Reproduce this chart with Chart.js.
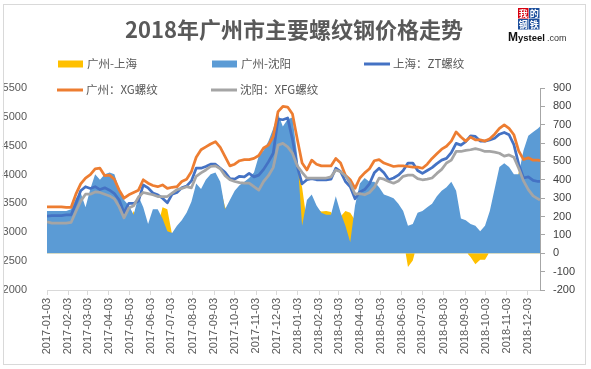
<!DOCTYPE html>
<html><head><meta charset="utf-8">
<script src="https://cdn.jsdelivr.net/npm/chart.js@4"></script>
<style>html,body{margin:0;padding:0;background:#fff;}#wrap{width:591px;height:369px;position:relative;}</style>
</head><body><div id="wrap"><canvas id="c" width="591" height="369"></canvas></div>
<script>
const dates = [
'2017-01-03','2017-01-10','2017-01-17','2017-01-24','2017-01-31',
'2017-02-07','2017-02-14','2017-02-21','2017-02-28',
'2017-03-07','2017-03-14','2017-03-21','2017-03-28',
'2017-04-04','2017-04-11','2017-04-18','2017-04-25',
'2017-05-02','2017-05-09','2017-05-16','2017-05-23','2017-05-30',
'2017-06-06','2017-06-13','2017-06-20','2017-06-27',
'2017-07-04','2017-07-11','2017-07-18','2017-07-25',
'2017-08-01','2017-08-08','2017-08-15','2017-08-22','2017-08-29',
'2017-09-05','2017-09-12','2017-09-19','2017-09-26',
'2017-10-03','2017-10-10','2017-10-17','2017-10-24','2017-10-31',
'2017-11-07','2017-11-14','2017-11-21','2017-11-28',
'2017-12-05','2017-12-12','2017-12-19','2017-12-26',
'2018-01-02','2018-01-09','2018-01-16','2018-01-23','2018-01-30',
'2018-02-06','2018-02-13','2018-02-20','2018-02-27',
'2018-03-06','2018-03-13','2018-03-20','2018-03-27',
'2018-04-03','2018-04-10','2018-04-17','2018-04-24',
'2018-05-01','2018-05-08','2018-05-15','2018-05-22','2018-05-29',
'2018-06-05','2018-06-12','2018-06-19','2018-06-26',
'2018-07-03','2018-07-10','2018-07-17','2018-07-24','2018-07-31',
'2018-08-07','2018-08-14','2018-08-21','2018-08-28',
'2018-09-04','2018-09-11','2018-09-18','2018-09-25',
'2018-10-02','2018-10-09','2018-10-16','2018-10-23','2018-10-30',
'2018-11-06','2018-11-13','2018-11-20','2018-11-27',
'2018-12-04','2018-12-11','2018-12-18','2018-12-21'
];
const tickLabels = [
'2017-01-03','2017-02-03','2017-03-03','2017-04-03','2017-05-03','2017-06-03',
'2017-07-03','2017-08-03','2017-09-03','2017-10-03','2017-11-03','2017-12-03',
'2018-01-03','2018-02-03','2018-03-03','2018-04-03','2018-05-03','2018-06-03',
'2018-07-03','2018-08-03','2018-09-03','2018-10-03','2018-11-03','2018-12-03'
];
// 广州-上海 (right axis)
const spreadGZSH = [
160,150,150,150,130,130,160,120,150,240,
310,370,210,260,250,170,250,150,230,190,
90,80,130,140,250,240,100,100,110,120,
160,190,320,340,350,390,360,250,220,260,
270,300,240,320,340,370,290,290,130,230,
190,440,470,360,170,280,240,228,230,225,
170,200,230,220,180,240,290,260,210,150,
170,260,200,160,80,-75,-40,60,90,110,
160,170,190,210,200,200,140,10,-20,-60,
-35,-35,10,70,100,130,110,170,445,320,
330,350,370,360
];
// 广州-沈阳 (right axis)
const spreadGZSY = [
230,230,230,230,230,240,300,330,250,350,
430,400,430,440,430,350,290,260,210,310,
250,160,240,240,190,120,110,150,180,220,
280,380,350,400,430,440,390,240,290,340,
370,390,410,440,530,560,610,680,760,690,
730,740,530,150,290,320,260,220,210,210,
310,220,150,60,260,380,410,390,390,360,
320,310,300,270,230,150,160,220,230,250,
270,310,340,360,390,340,190,180,160,150,
120,150,230,350,470,490,470,430,430,560,
640,660,680,690
];
// 上海：ZT螺纹 (left axis)
const priceSHZT = [
3280,3290,3290,3290,3300,3300,3500,3720,3790,3760,
3790,3740,3770,3730,3670,3560,3340,3500,3500,3540,
3820,3770,3680,3650,3590,3510,3660,3690,3770,3800,
3890,4110,4110,4140,4180,4180,4110,4040,3930,3920,
3970,3960,4020,3960,3990,4090,4220,4370,4960,4950,
4980,4610,4140,3840,3910,3930,3910,3910,3910,3920,
4110,4050,3880,3790,3580,3700,3740,3840,4030,4110,
4030,3910,3940,3990,4070,4200,4200,4070,4020,4070,
4120,4190,4250,4280,4380,4540,4510,4570,4670,4660,
4580,4580,4600,4630,4700,4730,4690,4520,4180,3940,
3960,3900,3880,3880
];
// 广州：XG螺纹 (left axis)
const priceGZXG = [
3440,3440,3440,3440,3430,3430,3660,3840,3940,4000,
4100,4110,3980,3990,3920,3730,3590,3650,3690,3730,
3910,3850,3810,3790,3820,3760,3780,3790,3880,3920,
4050,4300,4430,4480,4530,4570,4470,4310,4150,4180,
4240,4260,4260,4280,4330,4460,4510,4660,5090,5180,
5170,5050,4610,4200,4080,4250,4180,4150,4150,4150,
4280,4200,3990,3910,3760,3940,4030,4100,4240,4260,
4200,4170,4140,4150,4150,4140,4130,4130,4110,4180,
4280,4360,4440,4490,4580,4740,4650,4580,4650,4600,
4600,4580,4620,4700,4800,4860,4800,4690,4410,4260,
4290,4250,4250,4240
];
// 沈阳：XFG螺纹 (left axis)
const priceSYXFG = [
3180,3160,3160,3160,3160,3170,3360,3540,3660,3660,
3700,3690,3660,3630,3580,3440,3250,3420,3460,3610,
3690,3670,3650,3620,3620,3620,3680,3740,3760,3790,
3770,3970,4030,4080,4140,4150,4100,3980,3910,3880,
3860,3850,3850,3790,3730,3880,3980,4120,4510,4540,
4480,4370,4150,4040,3940,3940,3940,3940,3940,3960,
4080,4050,3980,3850,3660,3670,3650,3690,3780,3940,
3920,3880,3850,3890,3970,3990,3990,3930,3910,3920,
3940,4020,4090,4200,4250,4400,4400,4420,4430,4450,
4430,4400,4400,4390,4370,4320,4340,4300,4110,3890,
3740,3630,3580,3560
];
const seriesNames = ['广州-上海','广州-沈阳','上海：ZT螺纹','广州：XG螺纹','沈阳：XFG螺纹'];
const titleText = '2018年广州市主要螺纹钢价格走势';

const DAY = 864e5;
const t0 = Date.parse(dates[0]);
const dayOf = d => (Date.parse(d) - t0) / DAY;
const pts = arr => arr.map((v, i) => ({x: dayOf(dates[i]), y: v}));

const NUM_FONT = "'Liberation Sans', Arial, sans-serif";
const CJK_FONT = "'Noto Sans CJK SC', 'Noto Sans', sans-serif";

const decor = {
  id: 'decor',
  beforeDraw(chart) {
    const ctx = chart.ctx;
    ctx.save();
    ctx.fillStyle = '#ffffff';
    ctx.fillRect(0, 0, chart.width, chart.height);
    ctx.restore();
  },
  afterDraw(chart) {
    const ctx = chart.ctx;
    ctx.save();
    // border
    ctx.strokeStyle = '#d9d9d9';
    ctx.lineWidth = 1;
    ctx.strokeRect(3.5, 4.5, 582, 360);
    // title
    ctx.fillStyle = '#595959';
    ctx.font = 'bold 22px ' + CJK_FONT;
    ctx.textAlign = 'center';
    ctx.textBaseline = 'middle';
    ctx.fillText(titleText, 294, 30);
    // logo
    const cells = [['我', '#d7000f', 518, 8], ['的', '#1d4f9c', 529, 8], ['钢', '#1d4f9c', 518, 19], ['铁', '#1d4f9c', 529, 19]];
    ctx.font = 'bold 9px ' + CJK_FONT;
    cells.forEach(c => {
      ctx.fillStyle = c[1];
      ctx.fillRect(c[2], c[3], 10.5, 10.5);
      ctx.fillStyle = '#ffffff';
      ctx.fillText(c[0], c[2] + 5.25, c[3] + 5.5);
    });
    ctx.textAlign = 'left';
    ctx.textBaseline = 'alphabetic';
    ctx.fillStyle = '#111111';
    ctx.font = 'bold 12px ' + NUM_FONT;
    ctx.fillText('M', 508, 41);
    ctx.font = 'bold 9.5px ' + NUM_FONT;
    ctx.fillText('ysteel', 518, 41);
    ctx.fillStyle = '#333333';
    ctx.font = '9px ' + NUM_FONT;
    ctx.fillText('.com', 547, 41);
    // legend
    const items = [
      {ds: 0, x: 58, y: 64, box: true}, {ds: 1, x: 212, y: 64, box: true}, {ds: 2, x: 364, y: 64},
      {ds: 3, x: 57, y: 90}, {ds: 4, x: 211, y: 90}
    ];
    items.forEach(it => {
      const d = chart.data.datasets[it.ds];
      if (it.box) {
        ctx.fillStyle = d.backgroundColor;
        ctx.fillRect(it.x, it.y - 3.5, 25, 7);
      } else {
        ctx.strokeStyle = d.borderColor;
        ctx.lineWidth = 3;
        ctx.beginPath();
        ctx.moveTo(it.x, it.y);
        ctx.lineTo(it.x + 26, it.y);
        ctx.stroke();
      }
      ctx.fillStyle = '#595959';
      ctx.font = '11.5px ' + CJK_FONT;
      ctx.textBaseline = 'middle';
      ctx.fillText(d.label, it.x + 29, it.y);
    });
    ctx.restore();
  }
};

new Chart(document.getElementById('c'), {
  type: 'line',
  data: {
    datasets: [
      {label: seriesNames[0], data: pts(spreadGZSH), yAxisID: 'y2', fill: 'origin', backgroundColor: '#FFC000', borderWidth: 0, pointRadius: 0, order: 5},
      {label: seriesNames[1], data: pts(spreadGZSY), yAxisID: 'y2', fill: 'origin', backgroundColor: '#5B9BD5', borderWidth: 0, pointRadius: 0, order: 4},
      {label: seriesNames[2], data: pts(priceSHZT), yAxisID: 'y', fill: false, borderColor: '#4472C4', borderWidth: 2.75, pointRadius: 0, order: 3},
      {label: seriesNames[3], data: pts(priceGZXG), yAxisID: 'y', fill: false, borderColor: '#ED7D31', borderWidth: 2.75, pointRadius: 0, order: 2},
      {label: seriesNames[4], data: pts(priceSYXFG), yAxisID: 'y', fill: false, borderColor: '#A5A5A5', borderWidth: 2.75, pointRadius: 0, order: 1}
    ]
  },
  options: {
    responsive: false,
    animation: false,
    devicePixelRatio: 1,
    layout: {padding: {top: 88, left: 0, right: 0, bottom: 0}},
    elements: {line: {tension: 0, borderJoinStyle: 'round'}},
    plugins: {legend: {display: false}, title: {display: false}, tooltip: {enabled: false}},
    scales: {
      x: {
        type: 'linear', position: 'bottom',
        min: dayOf(dates[0]), max: dayOf(dates[dates.length - 1]),
        grid: {display: true, drawOnChartArea: false, drawTicks: true, tickLength: 5, color: '#d9d9d9'},
        border: {display: true, color: '#d9d9d9'},
        ticks: {autoSkip: false, minRotation: 90, maxRotation: 90, padding: 3, color: '#595959',
          font: {family: NUM_FONT, size: 11}, callback: (v, i) => tickLabels[i]},
        afterBuildTicks: s => { s.ticks = tickLabels.map(d => ({value: dayOf(d)})); },
        afterFit: s => { s.height = 79; }
      },
      y: {
        position: 'left', min: 2000, max: 5500,
        grid: {display: false}, border: {display: false},
        ticks: {stepSize: 500, padding: 12, color: '#595959', font: {family: NUM_FONT, size: 11}, callback: v => String(v)},
        afterFit: s => { s.width = 47; }
      },
      y2: {
        position: 'right', min: -200, max: 900,
        grid: {display: true, drawOnChartArea: false, drawTicks: true, tickLength: 5, color: '#a6a6a6'},
        border: {display: true, color: '#a6a6a6'},
        ticks: {stepSize: 100, padding: 8, color: '#404040', font: {family: NUM_FONT, size: 11}, callback: v => String(v)},
        afterFit: s => { s.width = 51; }
      }
    }
  },
  plugins: [decor]
});
</script>
</body></html>
